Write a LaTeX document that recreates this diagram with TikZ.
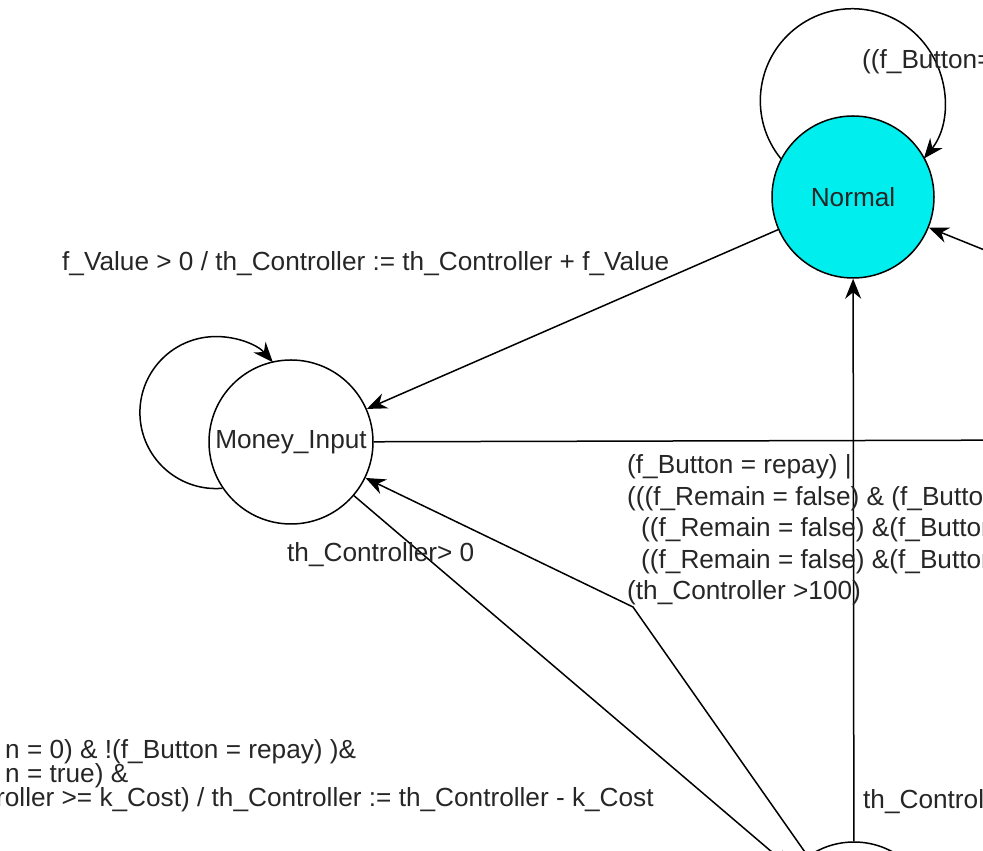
\documentclass[tikz,border=0pt]{standalone}
\usepackage{fontspec}
\setmainfont{Liberation Sans}
\usetikzlibrary{arrows.meta,calc}
\definecolor{normalcyan}{RGB}{0,238,238}
\begin{document}
\begin{tikzpicture}[x=1pt,y=1pt,
  state/.style={circle,draw=black,line width=1.5pt,inner sep=0pt,
    font=\fontsize{26.2}{30}\selectfont,text=black!85},
  edge/.style={draw=black,line width=1.5pt,-{Stealth[length=20pt,width=16pt]}},
  plain/.style={draw=black,line width=1.5pt},
  lbl/.style={anchor=base west,inner sep=0pt,
    font=\fontsize{26.2}{30}\selectfont,text=black!85}]
\useasboundingbox (0,0) rectangle (983,851);
\clip (0,0) rectangle (983,851);

% states
\node[state,fill=normalcyan,minimum size=162pt] (normal) at (853,654) {Normal};
\node[state,minimum size=164pt] (money) at (291,409) {Money\_Input};
\node[state,minimum size=160pt] (pay) at (854,-71) {};

% free ends of the edges that leave the drawing area
\coordinate (eastin) at (1039,579);
\coordinate (eastout) at (1060,411);
\coordinate (bend) at (633,244);

% self loops
\draw[edge] (normal.152) arc[start angle=219,end angle=-39,radius=92];
\draw[edge] (money.214) arc[start angle=274.9,end angle=41.5,radius=76];

% transitions
\draw[edge] (normal) -- (money);
\draw[edge] (eastin) -- (normal);
\draw[plain] (money) -- (eastout);
\draw[edge] (pay) -- (normal);
\draw[edge] (money) -- (pay);
\draw[edge] (pay) -- (bend) -- (money);

% transition labels
\node[lbl] (tnormal) at (862,782) {((f\_Button=};
\node[lbl] (tvalue) at (62,580) {f\_Value > 0 / th\_Controller := th\_Controller + f\_Value};
\node[lbl] (tpos) at (287,289) {th\_Controller> 0};

\node[lbl] (tr1) at (627,377) {(f\_Button = repay) |};
\node[lbl] (tr2) at (627,345.5) {(((f\_Remain = false) \& (f\_Button};
\node[lbl] (tr3) at (641,314) {((f\_Remain = false) \&(f\_Button};
\node[lbl] (tr4) at (641,282.5) {((f\_Remain = false) \&(f\_Button};
\node[lbl] (tr5) at (627,251) {(th\_Controller >100)};

\node[lbl] (tb1) at (5,92) {n = 0) \& !(f\_Button = repay) )\&};
\node[lbl] (tb2) at (5,68) {n = true) \&};
\node[lbl] (tb3) at (-4,44) {roller >= k\_Cost) / th\_Controller := th\_Controller - k\_Cost};

\node[lbl] (tpay) at (863,42) {th\_Controller};
\end{tikzpicture}
\end{document}
